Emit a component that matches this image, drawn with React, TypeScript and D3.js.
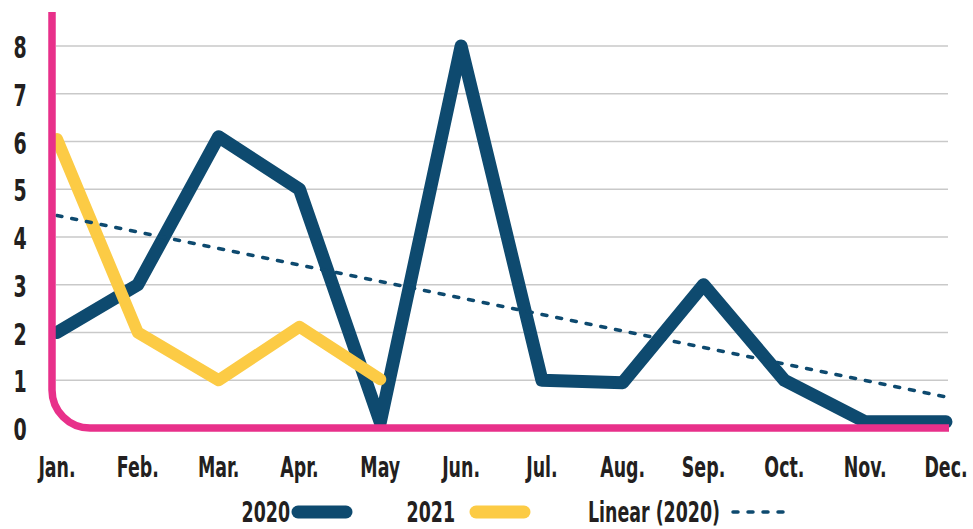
import * as d3 from "d3";
import { useEffect, useRef } from "react";

const months = ["Jan.", "Feb.", "Mar.", "Apr.", "May", "Jun.", "Jul.", "Aug.", "Sep.", "Oct.", "Nov.", "Dec."];
const values2020 = [2, 3, 6.1, 5, 0.12, 8, 1, 0.95, 3, 1, 0.13, 0.13];
const values2021 = [6.05, 2, 1, 2.12, 1.02];
// trend line read at its two ends (Jan., Dec.)
const trend2020 = [4.45, 0.65];
const yTicks = [0, 1, 2, 3, 4, 5, 6, 7, 8];

const NAVY = "#0e4a6f";
const YELLOW = "#fccb45";
const PINK = "#e8308a";
const TEXT = "#231f20";
const FONT = "'Liberation Sans Narrow', 'DejaVu Sans Condensed', 'Roboto Condensed', sans-serif";

export default function App() {
  const ref = useRef<SVGSVGElement>(null);

  useEffect(() => {
    const svg = d3.select(ref.current);
    svg.selectAll("*").remove();

    const width = 973;
    const height = 529;

    const x = d3.scalePoint().domain(months).range([57, 946]);
    const y = d3.scaleLinear().domain([0, 8]).range([428, 46]);

    // grid lines
    svg
      .append("g")
      .selectAll("line")
      .data(yTicks.filter((d) => d > 0))
      .join("line")
      .attr("x1", 56)
      .attr("x2", 948)
      .attr("y1", (d) => y(d))
      .attr("y2", (d) => y(d))
      .attr("stroke", "#c9c9c9")
      .attr("stroke-width", 1.5);

    // y labels
    svg
      .append("g")
      .selectAll("text")
      .data(yTicks)
      .join("text")
      .attr("transform", (d) => `translate(20,${y(d) + 12}) scale(0.88,1.28)`)
      .attr("text-anchor", "middle")
      .attr("font-family", FONT)
      .attr("font-weight", "bold")
      .attr("font-size", 24)
      .attr("fill", TEXT)
      .text((d) => d);

    // x labels
    svg
      .append("g")
      .selectAll("text")
      .data(months)
      .join("text")
      .attr("transform", (d) => `translate(${x(d)},${477}) scale(0.88,1.3)`)
      .attr("text-anchor", "middle")
      .attr("font-family", FONT)
      .attr("font-weight", "bold")
      .attr("font-size", 22)
      .attr("fill", TEXT)
      .text((d) => d);

    const line = d3
      .line<number>()
      .x((_, i) => x(months[i]) as number)
      .y((d) => y(d));

    svg
      .append("path")
      .attr("d", line(values2020))
      .attr("fill", "none")
      .attr("stroke", NAVY)
      .attr("stroke-width", 13)
      .attr("stroke-linejoin", "round")
      .attr("stroke-linecap", "round");

    svg
      .append("path")
      .attr("d", line(values2021))
      .attr("fill", "none")
      .attr("stroke", YELLOW)
      .attr("stroke-width", 12)
      .attr("stroke-linejoin", "round")
      .attr("stroke-linecap", "round");

    // linear trend
    svg
      .append("line")
      .attr("x1", x(months[0]) as number)
      .attr("x2", x(months[11]) as number)
      .attr("y1", y(trend2020[0]))
      .attr("y2", y(trend2020[1]))
      .attr("stroke", NAVY)
      .attr("stroke-width", 3.5)
      .attr("stroke-linecap", "round")
      .attr("stroke-dasharray", "5 10");

    // pink axis frame with rounded corner
    const fx = 52;
    const fy = y(0);
    const r = 38;
    const frame = d3.path();
    frame.moveTo(fx, 12);
    frame.lineTo(fx, fy - r);
    frame.arcTo(fx, fy, fx + r, fy, r);
    frame.lineTo(949, fy);
    svg
      .append("path")
      .attr("d", frame.toString())
      .attr("fill", "none")
      .attr("stroke", PINK)
      .attr("stroke-width", 7.5)
      .attr("stroke-linecap", "butt");

    // legend
    const legend = [
      { label: "2020", tx: 290, x1: 298, x2: 346, color: NAVY, w: 13, dash: null },
      { label: "2021", tx: 455, x1: 476, x2: 524, color: YELLOW, w: 13, dash: null },
      { label: "Linear (2020)", tx: 720, x1: 733, x2: 793, color: NAVY, w: 3.5, dash: "5 10" },
    ];
    const ly = 512;
    const lg = svg.append("g");
    legend.forEach((d) => {
      lg.append("text")
        .attr("transform", `translate(${d.tx},${ly + 10}) scale(0.88,1.3)`)
        .attr("text-anchor", "end")
        .attr("font-family", FONT)
        .attr("font-weight", "bold")
        .attr("font-size", 22)
        .attr("fill", TEXT)
        .text(d.label);
      const l = lg
        .append("line")
        .attr("x1", d.x1)
        .attr("x2", d.x2)
        .attr("y1", ly)
        .attr("y2", ly)
        .attr("stroke", d.color)
        .attr("stroke-width", d.w)
        .attr("stroke-linecap", "round");
      if (d.dash) l.attr("stroke-dasharray", d.dash);
    });

    svg.attr("viewBox", [0, 0, width, height]);
  }, []);

  return (
    <svg
      ref={ref}
      width={973}
      height={529}
      style={{ position: "absolute", left: 0, top: 0, background: "#fff", display: "block" }}
    />
  );
}
